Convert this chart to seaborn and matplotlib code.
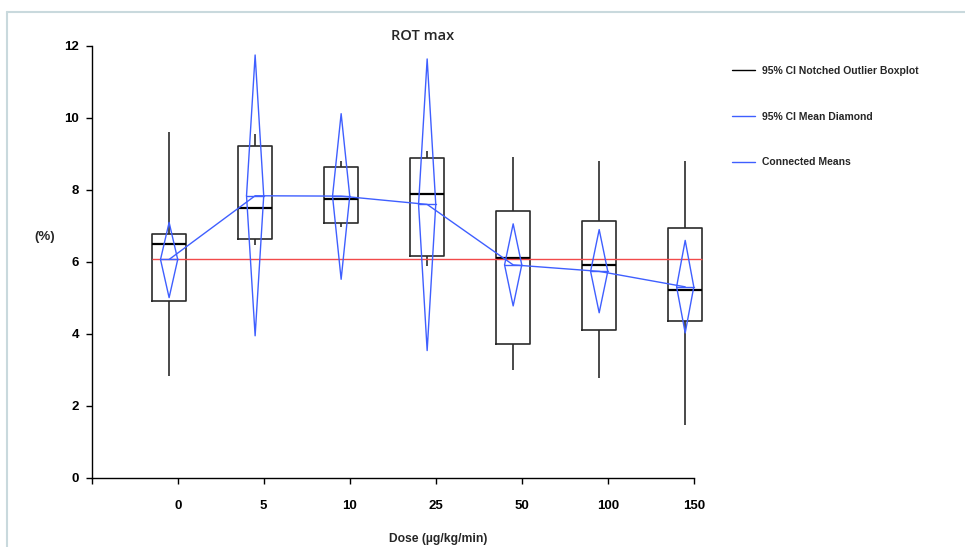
import numpy as np
import pandas as pd
import matplotlib
matplotlib.use("Agg")
import matplotlib.pyplot as plt
from matplotlib.lines import Line2D
import seaborn as sns

# Values
doses = ["0", "5", "10", "25", "50", "100", "150"]
whisker_low = [2.82, 6.46, 6.96, 5.88, 3.00, 2.79, 1.47]
q1 = [4.93, 6.64, 7.09, 6.18, 3.72, 4.11, 4.37]
median = [6.49, 7.51, 7.74, 7.88, 6.12, 5.91, 5.22]
q3 = [6.77, 9.23, 8.63, 8.89, 7.42, 7.15, 6.94]
whisker_high = [9.61, 9.55, 8.80, 9.08, 8.92, 8.80, 8.80]
means = [6.07, 7.84, 7.83, 7.60, 5.92, 5.74, 5.31]
ci_low = [5.01, 3.95, 5.52, 3.54, 4.78, 4.59, 4.03]
ci_high = [7.10, 11.75, 10.12, 11.64, 7.06, 6.90, 6.60]
ref_mean = 6.07

# five-number data per group, so seaborn reproduces the boxes exactly
rows = []
for i, d in enumerate(doses):
    for v in (whisker_low[i], q1[i], median[i], q3[i], whisker_high[i]):
        rows.append({"dose": d, "value": v})
df = pd.DataFrame(rows)

sns.set_style("ticks")
plt.rcParams["font.family"] = ["Liberation Sans", "DejaVu Sans"]

blue = "#3f5fff"
red = "#f24a4a"
box_w = 0.4
dia_w = 0.1
tick_off = 0.1

fig = plt.figure(figsize=(9.65, 5.47), dpi=100)
ax = fig.add_axes([91.7 / 965, 1 - 478 / 547, (711 - 91.7) / 965, 432 / 547])

sns.boxplot(data=df, x="dose", y="value", order=doses, width=box_w, fill=False,
            color="#2b2b2b", whis=(0, 100), showcaps=False, linewidth=1.2,
            medianprops=dict(color="black", linewidth=1.6), ax=ax)

n = len(doses)
pos = np.arange(n)

# reference line across all boxes
ax.hlines(ref_mean, pos[0] - box_w / 2, pos[-1] + box_w / 2, color=red, lw=1, zorder=3)

# 95% CI mean diamonds
for i in range(n):
    xs = [pos[i] - dia_w, pos[i], pos[i] + dia_w, pos[i], pos[i] - dia_w]
    ys = [means[i], ci_high[i], means[i], ci_low[i], means[i]]
    ax.plot(xs, ys, color=blue, lw=1, zorder=4)
    ax.plot([pos[i] - dia_w, pos[i] + dia_w], [means[i], means[i]], color=blue, lw=1, zorder=4)

# connected means
sns.pointplot(x=doses, y=means, order=doses, color=blue, markers="", errorbar=None,
              linewidth=1, ax=ax, zorder=5)

ax.set_xlim(-0.9, 6.3)
ax.set_ylim(0, 12)
ax.set_yticks([0, 2, 4, 6, 8, 10, 12])
ax.set_xticks([-0.9] + list(pos + tick_off))
ax.set_xticklabels([""] + doses)
sns.despine(ax=ax)
ax.spines["bottom"].set_bounds(-0.9, 6.1)
for s in ("left", "bottom"):
    ax.spines[s].set_color("black")
    ax.spines[s].set_linewidth(1)
ax.tick_params(axis="y", length=4, width=1, pad=5, labelsize=9.5, colors="black")
ax.tick_params(axis="x", length=4, width=1, pad=12, labelsize=9.5, colors="black")
for lab in ax.get_xticklabels() + ax.get_yticklabels():
    lab.set_fontweight("bold")

ax.set_xlabel("Dose (µg/kg/min)", fontsize=8.7, fontweight="bold")
ax.xaxis.set_label_coords(0.559, -0.127)
ax.set_ylabel("(%)", fontsize=9.5, fontweight="bold", rotation=0, va="center", ha="center")
ax.yaxis.set_label_coords(-0.076, 0.558)

fig.text(423 / 965, 1 - 36 / 547, "ROT max", ha="center", va="center",
         fontsize=10.5, fontweight="semibold", family=["Open Sans", "DejaVu Sans"])

handles = [Line2D([], [], color="black", lw=1),
           Line2D([], [], color=blue, lw=1),
           Line2D([], [], color=blue, lw=1)]
labels = ["95% CI Notched Outlier Boxplot", "95% CI Mean Diamond", "Connected Means"]
fig.legend(handles, labels, loc="upper left", bbox_to_anchor=(0.749, 0.8964),
           frameon=False, prop=dict(size=7.5, weight="bold"), handlelength=2.2,
           handletextpad=0.7, labelspacing=3.42)

# light frame around the figure
fig.add_artist(Line2D([7 / 965, 1], [1 - 12 / 547, 1 - 12 / 547], color="#c9d9dd", lw=1.5))
fig.add_artist(Line2D([7 / 965, 7 / 965], [0, 1 - 12 / 547], color="#c9d9dd", lw=1.5))

fig.savefig("out.png", dpi=100)
